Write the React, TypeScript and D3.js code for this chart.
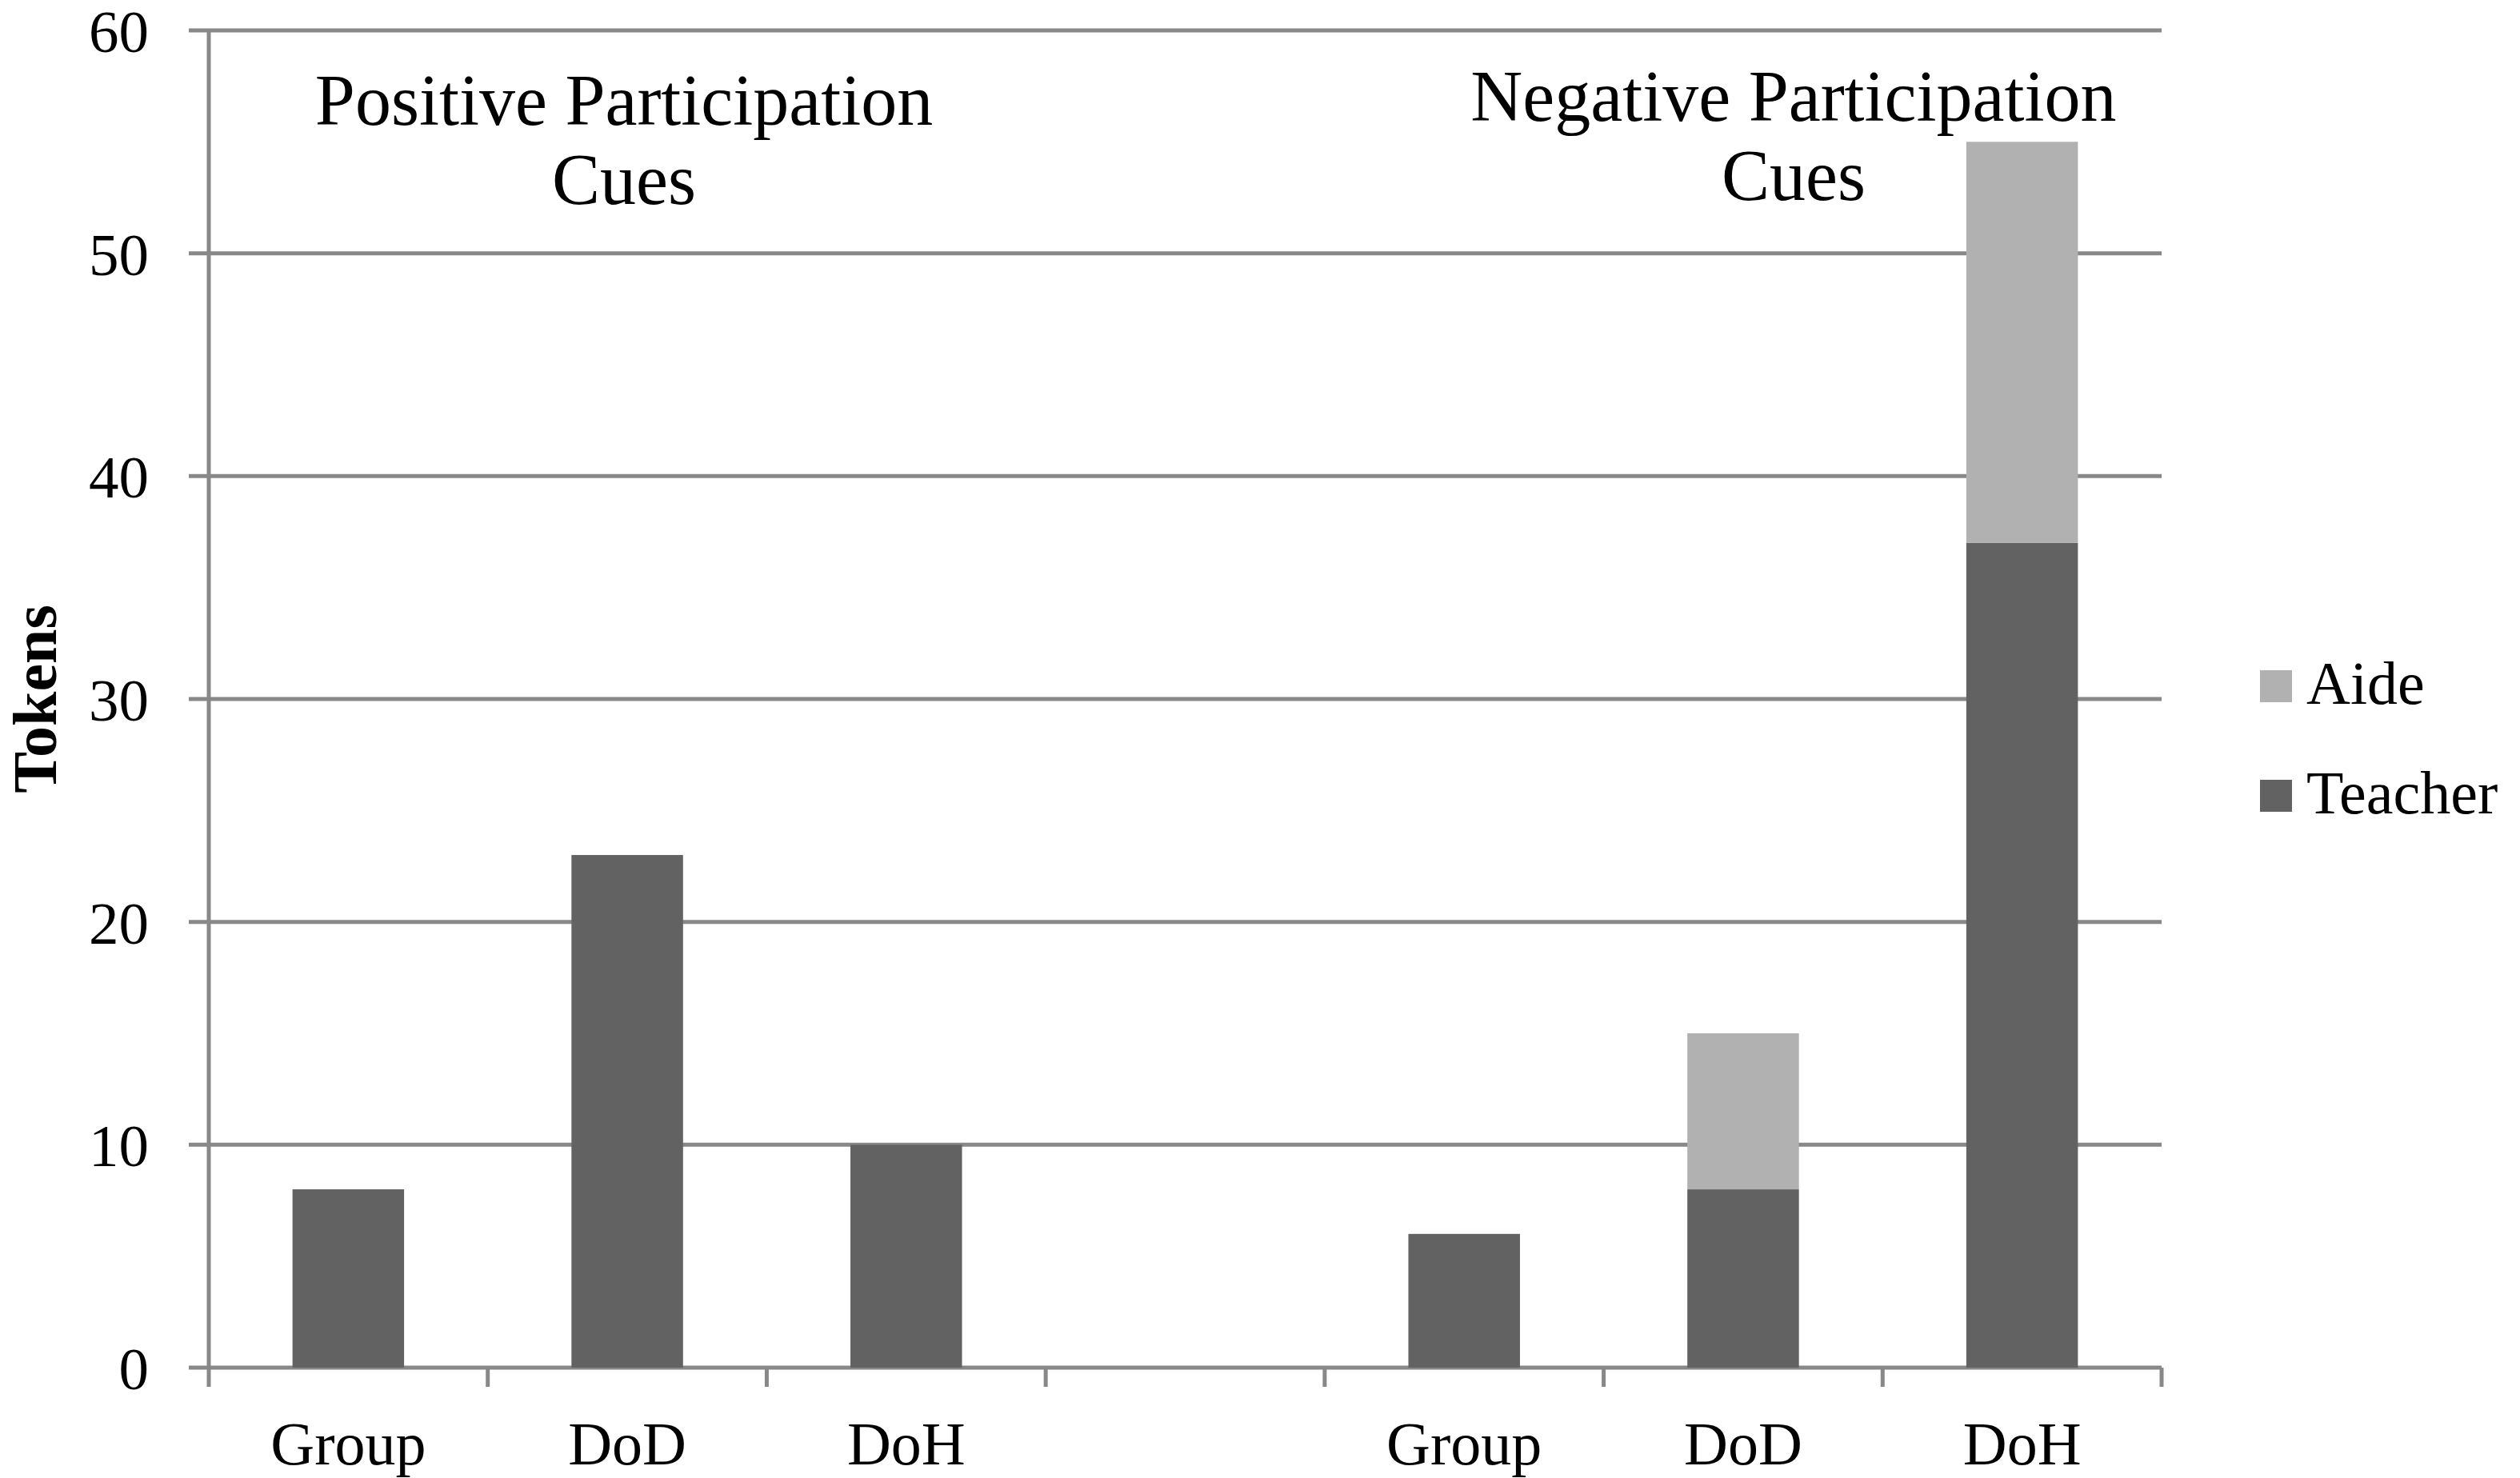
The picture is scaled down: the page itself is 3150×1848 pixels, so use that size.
import { useEffect } from 'react';
import * as d3 from 'd3';

// Category slots along the x axis (the 4th slot is an empty spacer)
const categories = ['Group', 'DoD', 'DoH', '', 'Group', 'DoD', 'DoH'];
const teacher = [8, 23, 10, 0, 6, 8, 37];
const aide = [0, 0, 0, 0, 0, 7, 18];
const yTicks = [0, 10, 20, 30, 40, 50, 60];
const seriesKeys = ['teacher', 'aide'];
const legendItems = ['Aide', 'Teacher'];
const groupLabels = [
    { lines: ['Positive Participation', 'Cues'], slot: 1 },
    { lines: ['Negative Participation', 'Cues'], slot: 5 },
];

const WIDTH = 3150;
const HEIGHT = 1848;
const margin = { top: 38, right: 448, bottom: 138, left: 261 };

const colors: Record<string, string> = {
    teacher: '#626262',
    aide: '#b1b1b1',
};
const gridColor = '#888888';
const font = '"Liberation Serif", "Times New Roman", serif';

export default function App() {
    useEffect(() => {
        document.body.style.margin = '0';
    }, []);

    const innerRight = WIDTH - margin.right;
    const innerBottom = HEIGHT - margin.bottom;

    const xScale = d3.scaleBand<number>()
        .domain(d3.range(categories.length))
        .range([margin.left, innerRight])
        .padding(0);

    const yScale = d3.scaleLinear()
        .domain([0, 60])
        .range([innerBottom, margin.top]);

    const rows = categories.map((c, i) => ({ teacher: teacher[i], aide: aide[i] }));
    const stacked = d3.stack<{ teacher: number; aide: number }>().keys(seriesKeys)(rows as any);

    const bw = xScale.bandwidth();
    const barW = bw * 0.4;
    const boundaries = d3.range(categories.length + 1).map(i => margin.left + i * xScale.step());

    return (
        <svg width={WIDTH} height={HEIGHT} style={{ display: 'block', background: '#fff' }}>
            {/* Gridlines */}
            {yTicks.map(t => (
                <line key={`g${t}`} x1={margin.left - 25} x2={innerRight}
                    y1={yScale(t)} y2={yScale(t)} stroke={gridColor} strokeWidth={5} />
            ))}

            {/* Y axis line */}
            <line x1={margin.left} x2={margin.left} y1={yScale(60) - 2} y2={innerBottom + 24}
                stroke={gridColor} strokeWidth={5} />

            {/* Category ticks */}
            {boundaries.slice(1).map((x, i) => (
                <line key={`t${i}`} x1={x} x2={x} y1={innerBottom} y2={innerBottom + 24}
                    stroke={gridColor} strokeWidth={5} />
            ))}

            {/* Bars */}
            {stacked.map(layer => (
                <g key={layer.key} fill={colors[layer.key]}>
                    {layer.map((d, i) => d[1] - d[0] > 0 ? (
                        <rect key={i}
                            x={(xScale(i) as number) + (bw - barW) / 2}
                            y={yScale(d[1])}
                            width={barW}
                            height={yScale(d[0]) - yScale(d[1])} />
                    ) : null)}
                </g>
            ))}

            {/* Y tick labels */}
            {yTicks.map(t => (
                <text key={`y${t}`} x={186} y={yScale(t) + 27} textAnchor="end"
                    fontFamily={font} fontSize={75} fill="#000">{t}</text>
            ))}

            {/* X category labels */}
            {categories.map((c, i) => (
                <text key={`x${i}`} x={(xScale(i) as number) + bw / 2} y={1831} textAnchor="middle"
                    fontFamily={font} fontSize={76} fill="#000">{c}</text>
            ))}

            {/* Y axis title */}
            <text transform={`translate(70,${yScale(30)}) rotate(-90)`} textAnchor="middle"
                fontFamily={font} fontSize={78} fontWeight="bold" fill="#000">Tokens</text>

            {/* Group annotations */}
            {groupLabels.map((g, gi) => (
                <text key={`a${gi}`} textAnchor="middle" fontFamily={font} fontSize={90} fill="#000">
                    {g.lines.map((l, li) => (
                        <tspan key={li} x={(xScale(g.slot) as number) + bw / 2 + (gi === 0 ? -4 : 63)}
                            y={(gi === 0 ? 156 : 151) + li * 99}>{l}</tspan>
                    ))}
                </text>
            ))}

            {/* Legend */}
            {legendItems.map((name, i) => (
                <g key={name} transform={`translate(2825,${838 + i * 137})`}>
                    <rect width={40} height={40} fill={colors[name === 'Aide' ? 'aide' : 'teacher']} />
                    <text x={58} y={42} fontFamily={font} fontSize={76} fill="#000">{name}</text>
                </g>
            ))}
        </svg>
    );
}
